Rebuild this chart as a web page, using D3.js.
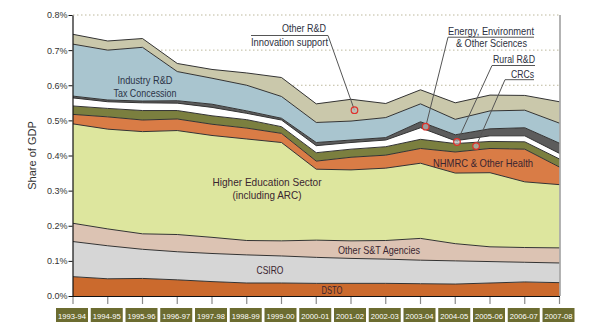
<!DOCTYPE html>
<html>
<head>
<meta charset="utf-8">
<script src="https://cdn.jsdelivr.net/npm/d3@7"></script>
<style>
  html, body { margin: 0; padding: 0; background: #ffffff; }
  svg { display: block; }
  .lbl { font-family: "Liberation Sans Narrow", "Liberation Sans", Arial, sans-serif; }
</style>
</head>
<body>
<svg id="chart" width="602" height="336"></svg>
<script>
// Financial years
const years = ["1993-94","1994-95","1995-96","1996-97","1997-98","1998-99","1999-00",
  "2000-01","2001-02","2002-03","2003-04","2004-05","2005-06","2006-07","2007-08"];

// Government support for R&D, share of GDP (%), by program
const dsto       = [0.055,0.049,0.050,0.046,0.041,0.037,0.037,0.036,0.036,0.036,0.035,0.034,0.037,0.040,0.038];
const csiro      = [0.100,0.094,0.083,0.080,0.080,0.080,0.077,0.074,0.071,0.069,0.067,0.066,0.061,0.056,0.056];
const otherST    = [0.052,0.048,0.044,0.049,0.046,0.041,0.043,0.049,0.050,0.053,0.062,0.049,0.042,0.042,0.043];
const higherEd   = [0.283,0.284,0.291,0.296,0.290,0.289,0.280,0.202,0.202,0.206,0.214,0.201,0.211,0.187,0.180];
const nhmrc      = [0.027,0.035,0.033,0.033,0.032,0.031,0.026,0.023,0.036,0.037,0.042,0.060,0.069,0.093,0.050];
const crcs       = [0.024,0.024,0.027,0.024,0.024,0.024,0.019,0.024,0.023,0.024,0.026,0.024,0.020,0.021,0.023];
const ruralRD    = [0.023,0.019,0.022,0.021,0.024,0.018,0.019,0.020,0.019,0.019,0.033,0.008,0.016,0.017,0.016];
const energyEnv  = [0.005,0.005,0.005,0.007,0.009,0.007,0.005,0.009,0.007,0.007,0.017,0.017,0.020,0.023,0.029];
const taxConc    = [0.148,0.142,0.153,0.083,0.074,0.073,0.062,0.057,0.054,0.057,0.051,0.044,0.051,0.050,0.057];
const otherRD    = [0.028,0.026,0.025,0.023,0.025,0.035,0.054,0.053,0.062,0.040,0.040,0.047,0.045,0.042,0.061];

const yTicks = [0,0.1,0.2,0.3,0.4,0.5,0.6,0.7,0.8];
const gridTicks = [0.6,0.7,0.8];

const seriesKeys = ["dsto","csiro","otherST","higherEd","nhmrc","crcs","ruralRD","energyEnv","taxConc","otherRD"];
const seriesData = {dsto, csiro, otherST, higherEd, nhmrc, crcs, ruralRD, energyEnv, taxConc, otherRD};
const fills = {
  dsto: "#cb6a2d", csiro: "#d6d6d6", otherST: "#dcc3b3", higherEd: "#dde69e",
  nhmrc: "#d97c46", crcs: "#7b7f3f", ruralRD: "#ffffff", energyEnv: "#5c5c5c",
  taxConc: "#a9c5cf", otherRD: "#cac8ab"
};

const rows = years.map((yr, i) => {
  const r = {year: yr};
  seriesKeys.forEach(k => r[k] = seriesData[k][i]);
  return r;
});

const svg = d3.select("#chart");
const x = d3.scalePoint().domain(years).range([73, 559.5]);
const y = d3.scaleLinear().domain([0, 0.8]).range([296, 15]);

const stacked = d3.stack().keys(seriesKeys)(rows);

// dotted gridlines behind the areas
svg.append("g").selectAll("line").data(gridTicks).join("line")
  .attr("x1", 73).attr("x2", 559.5)
  .attr("y1", d => y(d)).attr("y2", d => y(d))
  .attr("stroke", "#bdb89c").attr("stroke-width", 1)
  .attr("stroke-dasharray", "1.5,2.5");

const area = d3.area()
  .x(d => x(d.data.year))
  .y0(d => y(d[0]))
  .y1(d => y(d[1]));

const topLine = d3.line()
  .x(d => x(d.data.year))
  .y(d => y(d[1]));

svg.append("g").selectAll("path").data(stacked).join("path")
  .attr("d", area)
  .attr("fill", d => fills[d.key]);

svg.append("g").selectAll("path").data(stacked).join("path")
  .attr("d", topLine)
  .attr("fill", "none")
  .attr("stroke", "#333333")
  .attr("stroke-width", 1)
  .attr("stroke-linejoin", "round");

// right frame line
svg.append("line")
  .attr("x1", 560).attr("x2", 560).attr("y1", y(0.8)).attr("y2", y(0))
  .attr("stroke", "#9a9a9a").attr("stroke-width", 1.5);

// y axis
const yAxis = svg.append("g")
  .attr("transform", "translate(72.5,0)")
  .call(d3.axisLeft(y).tickValues(yTicks).tickFormat(d => d.toFixed(1) + "%").tickSize(4).tickSizeOuter(0));
yAxis.select(".domain").attr("stroke", "#111").attr("stroke-width", 1.2);
yAxis.selectAll(".tick line").attr("stroke", "#111");
yAxis.selectAll(".tick text")
  .attr("font-family", "Liberation Sans, Arial, sans-serif")
  .attr("font-size", 9).attr("fill", "#333").attr("x", -5);

svg.append("text")
  .attr("transform", `translate(36,${y(0.4)}) rotate(-90)`)
  .attr("text-anchor", "middle")
  .attr("font-family", "Liberation Sans, Arial, sans-serif")
  .attr("font-size", 11).attr("fill", "#333")
  .text("Share of GDP");

// x axis baseline, ticks and boxed year labels
svg.append("line")
  .attr("x1", 72).attr("x2", 560).attr("y1", 296.5).attr("y2", 296.5)
  .attr("stroke", "#111").attr("stroke-width", 1.2);

const xt = svg.append("g");
xt.selectAll("line").data(years).join("line")
  .attr("x1", d => x(d)).attr("x2", d => x(d))
  .attr("y1", 297).attr("y2", 304)
  .attr("stroke", "#8a8a8a").attr("stroke-width", 1.2);

const boxes = svg.append("g").selectAll("g").data(years).join("g")
  .attr("transform", d => `translate(${x(d) - 1},0)`);
boxes.append("rect")
  .attr("x", -16).attr("y", 308).attr("width", 32).attr("height", 14)
  .attr("fill", "#6c6c30");
boxes.append("text")
  .attr("x", 0).attr("y", 318.5)
  .attr("text-anchor", "middle")
  .attr("font-family", "Liberation Sans, Arial, sans-serif")
  .attr("font-size", 7.6).attr("fill", "#ffffff")
  .attr("textLength", 28).attr("lengthAdjust", "spacingAndGlyphs")
  .text(d => d);

// text line helper with a set run length for the condensed label face
function textLine(parent, s, px, py, width, anchor, size, color) {
  return parent.append("text").attr("class", "lbl")
    .attr("x", px).attr("y", py)
    .attr("text-anchor", anchor).attr("font-size", size).attr("fill", color)
    .attr("textLength", width).attr("lengthAdjust", "spacingAndGlyphs")
    .text(s);
}

// in-area labels
const labelColor = "#3a2530";
const areaLabels = [
  {lines: ["Industry R&D", "Tax Concession"], w: [55, 63], cx: 145, cy: 84, color: "#2c3447"},
  {lines: ["Higher Education Sector", "(including ARC)"], w: [109, 69], cx: 267, cy: 186, color: labelColor},
  {lines: ["Other S&T Agencies"], w: [82], cx: 379, cy: 254, color: labelColor},
  {lines: ["CSIRO"], w: [27], cx: 270, cy: 273.5, color: labelColor},
  {lines: ["DSTO"], w: [21], cx: 332, cy: 294, color: labelColor},
  {lines: ["NHMRC & Other Health"], w: [100], cx: 483, cy: 167, color: labelColor}
];
const al = svg.append("g");
areaLabels.forEach(a => a.lines.forEach((s, i) =>
  textLine(al, s, a.cx, a.cy + i * 12.5, a.w[i], "middle", 11.5, a.color)));

// call-out annotations: anchor on a layer at a (fractional) year position
function layerMid(key, idx) {
  const s = stacked.find(d => d.key === key);
  const i0 = Math.floor(idx), i1 = Math.min(i0 + 1, years.length - 1), f = idx - i0;
  const lo = s[i0][0] + (s[i1][0] - s[i0][0]) * f;
  const hi = s[i0][1] + (s[i1][1] - s[i0][1]) * f;
  const px = x(years[i0]) + (x(years[i1]) - x(years[i0])) * f;
  return [px, y((lo + hi) / 2)];
}

const annotations = [
  {key: "otherRD",   idx: 8.1,  anchor: "end",
   lines: [{s: "Other R&D", x: 326, y: 32.3, w: 44}, {s: "Innovation support", x: 328, y: 45.5, w: 77}],
   ux0: 251, ux1: 328, uy: 35.5, lx: 328},
  {key: "energyEnv", idx: 10.15, anchor: "middle",
   lines: [{s: "Energy, Environment", x: 491, y: 34.7, w: 86}, {s: "& Other Sciences", x: 491.5, y: 46.5, w: 71}],
   ux0: 448, ux1: 534, uy: 37.2, lx: 448},
  {key: "ruralRD",   idx: 11.05, anchor: "end",
   lines: [{s: "Rural R&D", x: 535, y: 63.3, w: 42}],
   ux0: 492, ux1: 535, uy: 65.5, lx: 492},
  {key: "crcs",      idx: 11.6, anchor: "end",
   lines: [{s: "CRCs", x: 534, y: 77.6, w: 23}],
   ux0: 505, ux1: 534, uy: 79.7, lx: 505}
];

const ann = svg.append("g");
annotations.forEach(a => {
  const [cx, cy] = layerMid(a.key, a.idx);
  ann.append("line").attr("x1", a.lx).attr("y1", a.uy).attr("x2", cx).attr("y2", cy)
    .attr("stroke", "#555").attr("stroke-width", 1);
  ann.append("line").attr("x1", a.ux0).attr("x2", a.ux1).attr("y1", a.uy).attr("y2", a.uy)
    .attr("stroke", "#555").attr("stroke-width", 1);
  ann.append("circle").attr("cx", cx).attr("cy", cy).attr("r", 3.3)
    .attr("fill", "#b9b9b9").attr("fill-opacity", 0.7)
    .attr("stroke", "#e0302a").attr("stroke-width", 1.2);
  a.lines.forEach(l => textLine(ann, l.s, l.x, l.y, l.w, a.anchor, 10.5, "#2c3040"));
});
</script>
</body>
</html>
